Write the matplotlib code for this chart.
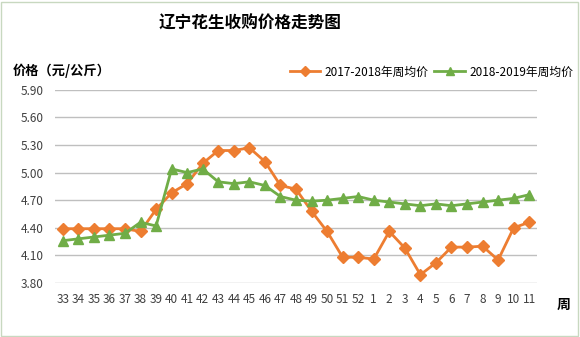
import matplotlib.pyplot as plt
from matplotlib.patches import Rectangle

plt.rcParams['font.family'] = ['Noto Sans CJK SC', 'DejaVu Sans']

weeks = ['33', '34', '35', '36', '37', '38', '39', '40', '41', '42', '43', '44', '45', '46',
         '47', '48', '49', '50', '51', '52', '1', '2', '3', '4', '5', '6', '7', '8', '9', '10', '11']
price_1718 = [4.39, 4.39, 4.39, 4.39, 4.39, 4.36, 4.60, 4.78, 4.88, 5.10, 5.24, 5.24, 5.27, 5.12,
              4.86, 4.82, 4.58, 4.36, 4.08, 4.08, 4.06, 4.36, 4.18, 3.89, 4.02, 4.19, 4.19, 4.20,
              4.05, 4.40, 4.46]
price_1819 = [4.26, 4.28, 4.30, 4.32, 4.34, 4.46, 4.42, 5.04, 5.00, 5.04, 4.90, 4.88, 4.90, 4.86,
              4.74, 4.70, 4.69, 4.70, 4.72, 4.74, 4.70, 4.68, 4.66, 4.64, 4.66, 4.64, 4.66, 4.68,
              4.70, 4.72, 4.76]
yticks = [3.80, 4.10, 4.40, 4.70, 5.00, 5.30, 5.60, 5.90]

fig = plt.figure(figsize=(5.8, 3.37), dpi=100)
ax = fig.add_axes([55 / 580, 1 - 283 / 337, (537 - 55) / 580, (283 - 89.8) / 337])

x = list(range(len(weeks)))
ax.plot(x, price_1718, color='#ED7D31', lw=2, marker='D', ms=6.5,
        label='2017-2018年周均价', zorder=3)
ax.plot(x, price_1819, color='#70AD47', lw=2, marker='^', ms=6.5,
        label='2018-2019年周均价', zorder=3)

ax.set_xlim(-0.5, len(weeks) - 0.5)
ax.set_ylim(3.80, 5.90)
ax.set_yticks(yticks)
ax.set_yticklabels(['%.2f' % v for v in yticks])
ax.set_xticks(x)
ax.set_xticklabels(weeks)
ax.tick_params(axis='both', length=0, labelsize=8.5, colors='#404040')
ax.tick_params(axis='x', pad=7)
ax.tick_params(axis='y', pad=8)
ax.grid(axis='y', color='#BFBFBF', lw=1)
ax.set_axisbelow(True)
for s in ax.spines.values():
    s.set_visible(False)

fig.text(250 / 580, 1 - 24 / 337, '辽宁花生收购价格走势图', ha='center', va='center',
         fontsize=12, fontweight='bold')
fig.text(13 / 580, 1 - 71 / 337, '价格（元/公斤）', ha='left', va='center',
         fontsize=9.5, fontweight='bold')
fig.text(557 / 580, 1 - 305 / 337, '周', ha='left', va='center',
         fontsize=10, fontweight='bold')

fig.legend(loc='center right', bbox_to_anchor=(1.0, 1 - 72 / 337), ncol=2, frameon=False,
           fontsize=8.5, handlelength=2.6, handletextpad=0.35, columnspacing=0.5,
           borderaxespad=0.2, markerscale=0.85)

fig.patches.append(Rectangle((0.002, 0.004), 0.994, 0.99, transform=fig.transFigure,
                             fill=False, edgecolor='#C8D8C0', lw=1))

fig.savefig('out.png', dpi=100)
